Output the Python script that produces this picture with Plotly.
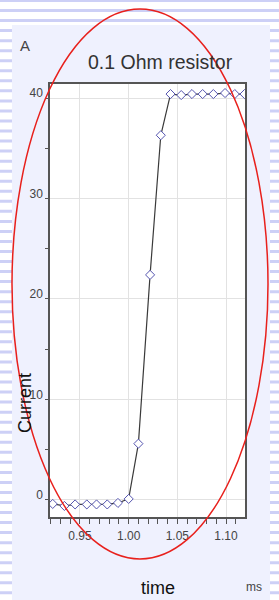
import plotly.graph_objects as go

# ---- data ----
time_ms = [0.922, 0.934, 0.945, 0.957, 0.967, 0.978, 0.989, 1.000, 1.010, 1.022,
           1.033, 1.043, 1.054, 1.065, 1.076, 1.087, 1.099, 1.109, 1.119]
current_a = [-0.4, -0.6, -0.45, -0.45, -0.45, -0.45, -0.3, 0.1, 5.6, 22.4,
             36.3, 40.4, 40.3, 40.4, 40.4, 40.4, 40.5, 40.4, 40.4]
x_ticks = [0.95, 1.00, 1.05, 1.10]
x_tick_labels = ["0.95", "1.00", "1.05", "1.10"]
y_ticks = [0, 10, 20, 30, 40]
y_tick_labels = ["0", "10", "20", "30", "40"]

W, H = 279, 600
L, R, T, B = 50, 34, 84, 83
PW, PH = W - L - R, H - T - B


def px(x):
    return (x - L) / PW


def py(y):
    return (H - B - y) / PH


FONT = "Liberation Sans, Arial, sans-serif"

fig = go.Figure()
fig.add_trace(go.Scatter(
    x=time_ms, y=current_a, mode="lines+markers",
    line=dict(color="#3a3a3a", width=1.2),
    marker=dict(symbol="diamond", size=7, color="white",
                line=dict(color="#5555b0", width=1)),
    showlegend=False, hoverinfo="skip"))

shapes = []
# striped page background
y = -1.0
while y < H:
    shapes.append(dict(type="rect", xref="paper", yref="paper", layer="below",
                       x0=px(0), x1=px(W), y0=py(y), y1=py(y + 3),
                       line=dict(width=0), fillcolor="#cdd0f6"))
    y += 10.04
# panel
shapes.append(dict(type="rect", xref="paper", yref="paper", layer="below",
                   x0=px(12), x1=px(270), y0=py(25), y1=py(H + 2),
                   line=dict(width=0), fillcolor="#eff1fe"))
# plot area
shapes.append(dict(type="rect", xref="paper", yref="paper", layer="below",
                   x0=0, x1=1, y0=0, y1=1,
                   line=dict(width=0), fillcolor="white"))
# red ellipse annotation
shapes.append(dict(type="circle", xref="paper", yref="paper", layer="above",
                   x0=px(12), x1=px(268), y0=py(559), y1=py(9),
                   line=dict(color="#e8201c", width=1.5), fillcolor="rgba(0,0,0,0)"))

annotations = [
    dict(text="A", x=px(25), y=py(45), font=dict(size=15, color="#444")),
    dict(text="0.1 Ohm resistor", x=px(160), y=py(62), font=dict(size=19.5, color="#333")),
    dict(text="Current", x=px(25), y=py(403), textangle=-90, font=dict(size=18, color="#111")),
    dict(text="time", x=px(158), y=py(588), font=dict(size=18, color="#111")),
    dict(text="ms", x=px(254), y=py(587), font=dict(size=12, color="#444")),
]
for a in annotations:
    a.update(xref="paper", yref="paper", showarrow=False,
             xanchor="center", yanchor="middle")
    a["font"]["family"] = FONT

fig.update_layout(
    width=W, height=H, margin=dict(l=L, r=R, t=T, b=B, pad=0),
    paper_bgcolor="white", plot_bgcolor="white",
    font=dict(family=FONT, size=12, color="#444"),
    shapes=shapes, annotations=annotations, showlegend=False,
)
fig.update_xaxes(
    range=[0.9192, 1.1195], tickvals=x_ticks, ticktext=x_tick_labels,
    showgrid=True, gridcolor="#e2e2e2", gridwidth=1,
    showline=True, linecolor="#555", linewidth=1.5, mirror=True,
    ticks="outside", ticklen=5, tickcolor="#555",
    minor=dict(dtick=0.01, tick0=0.95, ticks="outside", ticklen=5, tickcolor="#555", showgrid=False),
    tickfont=dict(size=12, color="#444"), zeroline=False,
    ticklabelstandoff=2,
)
fig.update_yaxes(
    range=[-1.7, 41.4], tickvals=y_ticks, ticktext=y_tick_labels,
    showgrid=True, gridcolor="#e2e2e2", gridwidth=1,
    showline=True, linecolor="#555", linewidth=1.5, mirror=True,
    ticks="outside", ticklen=3, tickcolor="#555",
    minor=dict(dtick=5, tick0=0, ticks="outside", ticklen=3, tickcolor="#555", showgrid=False),
    tickfont=dict(size=12, color="#444"), zeroline=False,
    ticklabelshift=-5,
)
fig.write_html(
    "out.html",
    config={"displayModeBar": False},
    post_script="document.body.style.margin='0';document.body.style.overflow='hidden';",
)
